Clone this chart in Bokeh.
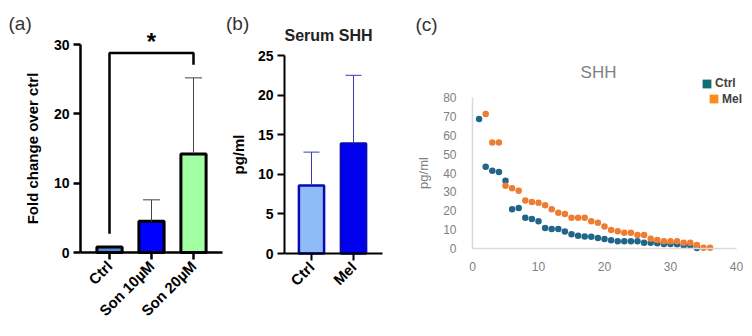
import math
from bokeh.plotting import figure
from bokeh.layouts import row
from bokeh.models import (ColumnDataSource, Range1d, Whisker, TeeHead,
                          Label, Legend, LegendItem, FixedTicker)
from bokeh.core.properties import value
from bokeh.embed import file_html
from bokeh.resources import INLINE

FONT = "Liberation Sans"

# ---------------- data ----------------
# (a) fold change over ctrl
a_categories = ["Ctrl", "Son 10µM", "Son 20µM"]
a_means = [0.8, 4.5, 14.2]
a_errors = [0.0, 3.1, 11.0]
a_colors = ["#4a90e2", "#0000ff", "#a0ffa0"]
a_yticks = [0, 10, 20, 30]

# (b) serum SHH
b_categories = ["Ctrl", "Mel"]
b_means = [8.6, 13.9]
b_errors = [4.2, 8.6]
b_colors = ["#8fbcf7", "#0000ee"]
b_yticks = [0, 5, 10, 15, 20, 25]

# (c) SHH scatter
c_ctrl_x = list(range(1, 35))
c_ctrl_y = [68.6, 43.3, 41.2, 40.5, 35.9, 20.8, 21.5, 16.3, 15.6, 14.4,
            10.9, 10.3, 10.3, 9.0, 7.5, 6.8, 6.3, 6.2, 5.6, 5.0,
            4.4, 3.8, 3.8, 3.8, 3.8, 3.0, 3.0, 2.8, 2.4, 2.4,
            2.2, 1.6, 1.6, 0.3]
c_mel_x = list(range(2, 37))
c_mel_y = [71.3, 56.2, 56.2, 33.3, 31.9, 30.6, 25.4, 24.7, 24.2, 22.9,
           20.8, 18.9, 18.3, 16.3, 16.3, 16.3, 14.4, 13.7, 11.6, 9.8,
           9.1, 8.4, 8.4, 7.2, 7.2, 5.1, 4.5, 3.8, 3.8, 3.8,
           3.1, 3.1, 1.8, 0.4, 0.4]
c_xticks = [0, 10, 20, 30, 40]
c_yticks = [0, 10, 20, 30, 40, 50, 60, 70, 80]

H = 336
BOTTOM = 4
FB = H - BOTTOM   # frame bottom in page pixels


def new_fig(width, xr, yr):
    p = figure(width=width, height=H, output_backend="svg", toolbar_location=None,
               x_range=xr, y_range=yr,
               min_border_left=0, min_border_right=0, min_border_top=0,
               min_border_bottom=BOTTOM)
    p.background_fill_color = "white"
    p.border_fill_color = "white"
    p.xgrid.visible = False
    p.ygrid.visible = False
    p.outline_line_color = None
    return p


def style_bar_axes(p, cats, ticks, lw, y_at, x_bounds):
    xa, ya = p.xaxis[0], p.yaxis[0]
    for ax in (xa, ya):
        ax.axis_line_width = lw
        ax.axis_line_color = "black"
        ax.major_tick_line_width = lw
        ax.major_tick_line_color = "black"
        ax.major_tick_out = 7
        ax.major_tick_in = 0
        ax.minor_tick_line_color = None
        ax.major_label_text_font = FONT
        ax.major_label_text_font_style = "bold"
        ax.major_label_text_color = "black"
        ax.axis_label_text_font = FONT
        ax.axis_label_text_font_style = "bold"
        ax.axis_label_text_color = "black"
        ax.axis_label_text_font_size = "15px"
    ya.fixed_location = y_at
    ya.ticker = FixedTicker(ticks=ticks)
    ya.bounds = (ticks[0], ticks[-1])
    ya.major_label_text_font_size = "14px"
    ya.major_label_standoff = 4
    xa.fixed_location = 0
    xa.bounds = x_bounds
    xa.ticker = FixedTicker(ticks=list(range(len(cats))))
    xa.major_label_overrides = {i: c for i, c in enumerate(cats)}
    xa.major_label_text_font_size = "15px"
    xa.major_label_orientation = math.pi / 4
    xa.major_label_standoff = 4


def bar_panel(p, cats, means, errors, colors, outline, outline_w, err_color, tee):
    xs = list(range(len(cats)))
    src = ColumnDataSource(dict(x=xs, top=means, color=colors))
    p.vbar(x="x", top="top", bottom=0, width=0.6, source=src, fill_color="color",
           line_color=outline, line_width=outline_w)
    e = [(x, m, m + er) for x, m, er in zip(xs, means, errors) if er > 0]
    src_e = ColumnDataSource(dict(base=[t[0] for t in e], lower=[t[1] for t in e],
                                  upper=[t[2] for t in e]))
    p.add_layout(Whisker(base="base", lower="lower", upper="upper", source=src_e,
                         dimension="height", line_color=err_color, line_width=1,
                         lower_head=None, level="overlay",
                         upper_head=TeeHead(size=tee, line_color=err_color, line_width=1)))


def panel_letter(p, x, y, txt):
    p.add_layout(Label(x=x, y=y, text=txt, text_font=FONT, text_font_size="19px",
                       text_color="#333333", text_baseline="middle"))


# ---------------- panel (a) ----------------
# category spacing 42 px, first category at 109 px, y=0 at 252 px
SA = 6.93
pa = new_fig(225, Range1d(-109 / 42, (225 - 109) / 42),
             Range1d(-(FB - 252) / SA, 252 / SA))
bar_panel(pa, a_categories, a_means, a_errors, a_colors, "black", 3, "#444444", 17)
# significance bracket
pa.line(x=[0, 0, 2, 2], y=[2.7, 28.8, 28.8, 27.1], line_color="black", line_width=2.5)
pa.text(x=[1], y=[30.45], text=["*"], text_font=value(FONT),
        text_font_style="bold", text_font_size="24px", text_align="center",
        text_baseline="middle", text_color="black")
style_bar_axes(pa, a_categories, a_yticks, 2.5, -29 / 42, (-29 / 42, 113 / 42))
pa.yaxis[0].axis_label = "Fold change over ctrl"
pa.yaxis[0].axis_label_standoff = 10
panel_letter(pa, -101 / 42, 33.0, "(a)")

# ---------------- panel (b) ----------------
SB = 7.92
pb = new_fig(165, Range1d(-86 / 42, (165 - 86) / 42),
             Range1d(-(FB - 253) / SB, 253 / SB))
bar_panel(pb, b_categories, b_means, b_errors, b_colors, "#0a0ab4", 2.5, "#3a3ab8", 16)
style_bar_axes(pb, b_categories, b_yticks, 2, -27 / 42, (-27 / 42, 71 / 42))
pb.yaxis[0].axis_label = "pg/ml"
pb.yaxis[0].axis_label_standoff = 8
panel_letter(pb, -85.5 / 42, 29.0, "(b)")
pb.add_layout(Label(x=17 / 42, y=27.5, text="Serum SHH",
                    text_font=FONT, text_font_size="16px", text_font_style="bold",
                    text_color="#222222", text_align="center", text_baseline="middle"))

# ---------------- panel (c) ----------------
SX = 6.6      # px per x unit
SY = 1.8875   # px per y unit
pc = new_fig(362, Range1d(-82 / SX, (362 - 82) / SX),
             Range1d(-(FB - 248) / SY, 248 / SY))
pc.scatter(x=c_ctrl_x, y=c_ctrl_y, size=6.5, fill_color="#1f6689", line_color=None)
pc.scatter(x=c_mel_x, y=c_mel_y, size=6.5, fill_color="#ee7d32", line_color=None)
xa, ya = pc.xaxis[0], pc.yaxis[0]
xa.ticker = FixedTicker(ticks=c_xticks)
ya.ticker = FixedTicker(ticks=c_yticks)
xa.fixed_location = 0
ya.fixed_location = 0
xa.bounds = (c_xticks[0], c_xticks[-1])
ya.bounds = (c_yticks[0], c_yticks[-1])
for ax in (xa, ya):
    ax.axis_line_color = "#d9d9d9"
    ax.axis_line_width = 1.5
    ax.major_tick_line_color = None
    ax.minor_tick_line_color = None
    ax.major_label_text_font = FONT
    ax.major_label_text_font_size = "12px"
    ax.major_label_text_color = "#808080"
xa.major_label_standoff = 7
ya.major_label_standoff = 10
ya.axis_label = "pg/ml"
ya.axis_label_text_font = FONT
ya.axis_label_text_font_style = "normal"
ya.axis_label_text_font_size = "13px"
ya.axis_label_text_color = "#808080"
ya.axis_label_standoff = 9

pc.add_layout(Label(x=19.1, y=93.2, text="SHH", text_font=FONT, text_font_size="17px",
                    text_color="#7f7f7f", text_align="center", text_baseline="middle"))
panel_letter(pc, -57 / SX, 118.7, "(c)")

# legend squares (renderers with no visible mark, only used for the legend swatch)
nan = float("nan")
leg_ctrl = pc.quad(left=[nan], right=[nan], top=[nan], bottom=[nan],
                   fill_color="#0f6e73", line_color=None)
leg_mel = pc.quad(left=[nan], right=[nan], top=[nan], bottom=[nan],
                  fill_color="#ff8c1a", line_color=None)
for r, name, loc in ((leg_ctrl, "Ctrl", (311, FB - 83.5 - 6.5)),
                     (leg_mel, "Mel", (318, FB - 99 - 6.5))):
    lg = Legend(items=[LegendItem(label=name, renderers=[r])], location=loc,
                padding=0, margin=0, spacing=0, glyph_width=11, glyph_height=11,
                label_standoff=3, label_height=11, label_width=10,
                label_text_font=FONT, label_text_font_style="bold",
                label_text_font_size="12px", label_text_color="#404040",
                border_line_alpha=0, background_fill_alpha=0)
    pc.add_layout(lg)

layout = row(pa, pb, pc)
open("out.html", "w").write(file_html(layout, INLINE))
